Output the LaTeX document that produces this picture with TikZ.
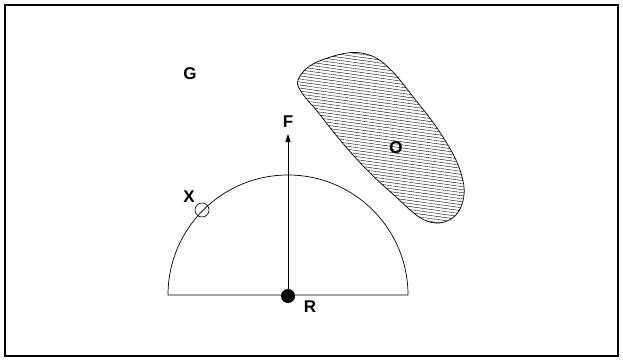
\documentclass[tikz,border=0pt]{standalone}
\usepackage{fontspec}
\setmainfont{Liberation Sans}
\usetikzlibrary{patterns.meta,arrows.meta}
\begin{document}
\begin{tikzpicture}[x=1pt,y=-1pt,
  lbl/.style={font=\fontsize{17}{19}\selectfont\bfseries, inner sep=0pt},
  thin line/.style={line width=0.7pt},
  dot/.style={circle, fill=black, minimum size=14pt, inner sep=0pt},
  joint/.style={circle, draw, line width=0.6pt, minimum size=14pt, inner sep=0pt}]
\useasboundingbox (0,0) rectangle (623,361);
\draw[line width=1.2pt] (5,5) rectangle (618,356);
% workspace semicircle
\draw[thin line] (168,295) arc[start angle=180, end angle=360, radius=120] -- cycle;
% obstacle
\draw[thin line, pattern={Lines[angle=-8,distance=3pt,line width=0.4pt]}]
  plot[smooth cycle, tension=0.6] coordinates {
   (298,80) (313,64) (347,53) (372,56) (392,71) (414,98) (437,128) (456,160)
   (464,187) (461,207) (451,219) (436,223) (419,217) (396,197) (367,170)
   (340,140) (317,111) (302,93)};
\node[dot] (R) at (288,296) {};
\coordinate (Ftip) at (288,134);
\draw[thin line, -{Triangle[length=8pt,width=5pt]}] (R.center) -- (Ftip);
\node[joint] (X) at (202,210) {};
\node[lbl] (Flab) at (288,122) {F};
\node[lbl] (Xlab) at (189,197) {X};
\node[lbl] (Glab) at (190,74) {G};
\node[lbl] (Rlab) at (310,307) {R};
\node[lbl] (Olab) at (396,148) {O};
\end{tikzpicture}
\end{document}
